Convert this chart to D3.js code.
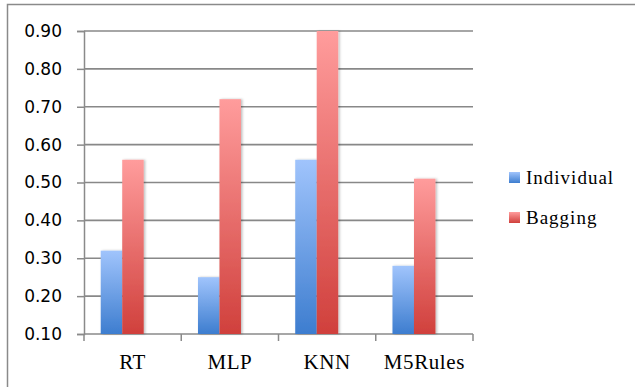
<!DOCTYPE html>
<html>
<head>
<meta charset="utf-8">
<script src="https://cdn.jsdelivr.net/npm/d3@7"></script>
<style>
  html, body { margin: 0; padding: 0; background: #fff; }
  svg { display: block; }
</style>
</head>
<body>
<svg id="chart" width="635" height="387"></svg>
<script>
// Model scores, individual learner vs. bagging ensemble
const categories = ["RT", "MLP", "KNN", "M5Rules"];
const individual = [0.32, 0.25, 0.56, 0.28];
const bagging = [0.56, 0.72, 0.90, 0.51];
const seriesNames = ["Individual", "Bagging"];
const yTicks = [0.10, 0.20, 0.30, 0.40, 0.50, 0.60, 0.70, 0.80, 0.90];

const SERIF = "Liberation Serif";
const SANS = "DejaVu Sans";

const svg = d3.select("#chart");
const W = 635, H = 387;
const plot = { left: 84, right: 473, top: 31, bottom: 334 };

const x = d3.scaleBand().domain(categories).range([plot.left, plot.right]).padding(0);
const y = d3.scaleLinear().domain([0.1, 0.9]).range([plot.bottom, plot.top]);

const defs = svg.append("defs");
function gradient(id, top, bottom) {
  const g = defs.append("linearGradient").attr("id", id)
    .attr("x1", 0).attr("y1", 0).attr("x2", 0).attr("y2", 1);
  g.append("stop").attr("offset", "0%").attr("stop-color", top);
  g.append("stop").attr("offset", "100%").attr("stop-color", bottom);
}
gradient("gBlue", "#a0c4fc", "#3d7dcf");
gradient("gRed", "#ff9c9c", "#d0403c");

const shadow = defs.append("filter").attr("id", "shadow")
  .attr("x", "-20%").attr("y", "-5%").attr("width", "150%").attr("height", "115%");
shadow.append("feDropShadow").attr("dx", 1.5).attr("dy", 0).attr("stdDeviation", 1.2)
  .attr("flood-color", "#000").attr("flood-opacity", 0.25);

// chart frame (left and top edges)
svg.append("path")
  .attr("d", `M7.5,${H} V4.5 H${W}`)
  .attr("fill", "none").attr("stroke", "#8a8a8a").attr("stroke-width", 1.5);

// horizontal gridlines
svg.append("g").selectAll("line").data(yTicks.slice(1)).join("line")
  .attr("x1", plot.left).attr("x2", plot.right)
  .attr("y1", d => y(d)).attr("y2", d => y(d))
  .attr("stroke", "#888").attr("stroke-width", 1.7);

// y axis
const yAxis = d3.axisLeft(y).tickValues(yTicks).tickFormat(d3.format(".2f")).tickSize(7).tickPadding(15);
const gy = svg.append("g").attr("transform", `translate(${plot.left},0)`).call(yAxis)
  .attr("font-family", SANS).attr("font-size", 17);
gy.selectAll("path, line").attr("stroke", "#8a8a8a").attr("stroke-width", 1.5);
gy.selectAll("text").attr("fill", "#000");

// x axis
const xAxis = d3.axisBottom(x).tickSize(0).tickPadding(0);
const gx = svg.append("g").attr("transform", `translate(0,${plot.bottom})`).call(xAxis)
  .attr("font-family", SERIF).attr("font-size", 21);
gx.select("path").remove();
gx.selectAll("line").remove();
gx.selectAll("text").attr("fill", "#000").attr("dy", 0).attr("y", 35)
  .attr("letter-spacing", 0.6);
const bounds = categories.map(c => x(c)).concat([plot.right]);
gx.append("line").attr("x1", plot.left).attr("x2", plot.right).attr("y1", 0).attr("y2", 0)
  .attr("stroke", "#8a8a8a").attr("stroke-width", 1.5);
gx.selectAll("line.tk").data(bounds).join("line").attr("class", "tk")
  .attr("x1", d => d).attr("x2", d => d).attr("y1", 0).attr("y2", 7)
  .attr("stroke", "#8a8a8a").attr("stroke-width", 1.5);

// bars
const bw = x.bandwidth();
const barW = bw * 0.221, offset = bw * 0.172;
const series = [
  { name: seriesNames[0], values: individual, fill: "url(#gBlue)" },
  { name: seriesNames[1], values: bagging, fill: "url(#gRed)" }
];
series.forEach((s, si) => {
  svg.append("g").attr("filter", "url(#shadow)")
    .selectAll("rect").data(categories).join("rect")
    .attr("x", c => x(c) + offset + si * barW)
    .attr("width", barW)
    .attr("y", (c, i) => y(s.values[i]))
    .attr("height", (c, i) => plot.bottom - y(s.values[i]))
    .attr("fill", s.fill);
});

// legend
const legend = svg.append("g").attr("transform", "translate(509,172)");
series.forEach((s, i) => {
  const g = legend.append("g").attr("transform", `translate(0,${i * 40})`);
  g.append("rect").attr("width", 11).attr("height", 11).attr("fill", s.fill);
  g.append("text").attr("x", 17).attr("y", 11.5)
    .attr("font-family", SERIF).attr("font-size", 19).attr("letter-spacing", 1)
    .attr("fill", "#000")
    .text(s.name);
});
</script>
</body>
</html>
